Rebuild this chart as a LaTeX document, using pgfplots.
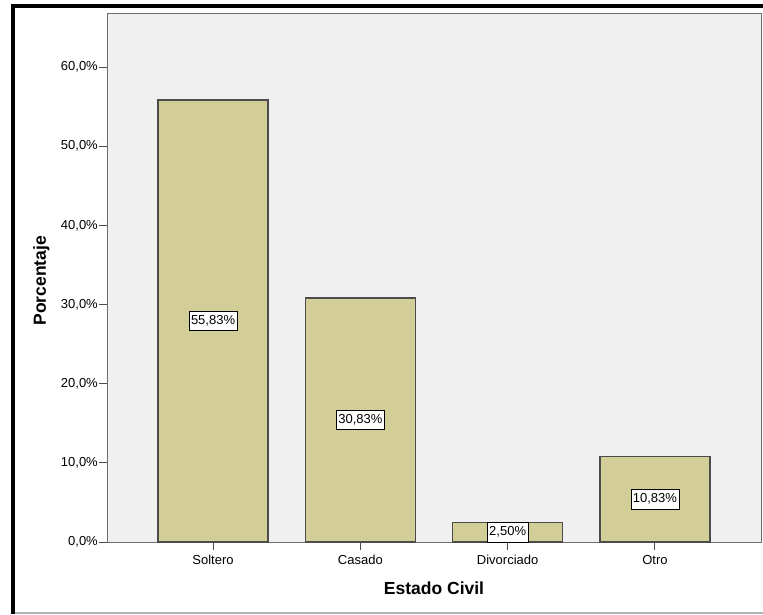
\documentclass[border=0pt]{standalone}
\usepackage{fontspec}
\setmainfont{Liberation Sans}
\usepackage{pgfplots}
\pgfplotsset{compat=1.18}
\definecolor{barfill}{HTML}{D3CE98}
\definecolor{plotbg}{HTML}{F0F0F0}
\definecolor{spine}{HTML}{6E6E6E}
\newcommand\lblfont{\fontsize{13}{15}\selectfont}

\begin{document}
\begin{tikzpicture}
\useasboundingbox (0pt,0pt) rectangle (763pt,614pt);
% marco exterior
\fill (11pt,0pt) rectangle (15pt,610pt);
\fill (11pt,606pt) rectangle (763pt,610pt);
\fill[black!30] (15pt,0.5pt) rectangle (763pt,2pt);
\begin{axis}[
  at={(107pt,72pt)}, anchor=south west,
  width=654pt, height=528pt, scale only axis,
  xmin=-0.72, xmax=3.72, ymin=0, ymax=66.7,
  axis background/.style={fill=plotbg},
  axis line style={draw=spine, line width=1pt},
  tick align=outside, major tick length=8pt,
  tick style={draw=black!70, line width=1pt},
  xtick pos=left, ytick pos=left,
  xtick={0,1,2,3},
  xticklabels={Soltero,Casado,Divorciado,Otro},
  ytick={0,10,...,60},
  yticklabels={{0,0\%},{10,0\%},{20,0\%},{30,0\%},{40,0\%},{50,0\%},{60,0\%}},
  xticklabel style={font=\lblfont, inner sep=0pt, anchor=north, yshift=-5pt},
  yticklabel style={font=\lblfont, inner sep=0pt, anchor=east, xshift=-1pt},
  xlabel={\textbf{Estado Civil}},
  ylabel={\textbf{Porcentaje}},
  xlabel style={font=\fontsize{17.5}{20}\selectfont, at={(axis description cs:0.5,-0.0985)}, anchor=base},
  ylabel style={font=\fontsize{17.5}{20}\selectfont, at={(axis description cs:-0.0933,0.495)}, anchor=base},
]
\addplot[ybar, bar width=110pt, fill=barfill, draw=black!70, line width=1.3pt]
  coordinates {(0,55.83) (1,30.83) (2,2.50) (3,10.83)};

\addplot[draw=none, mark=none, nodes near coords, point meta=explicit symbolic,
  every node near coord/.style={anchor=center, draw=black, fill=white,
    line width=0.8pt, inner xsep=2pt, inner ysep=4.5pt, font=\lblfont}]
  coordinates {(0,27.915) [55,83\%] (1,15.415) [30,83\%] (2,1.25) [2,50\%] (3,5.415) [10,83\%]};
\end{axis}
\end{tikzpicture}
\end{document}
